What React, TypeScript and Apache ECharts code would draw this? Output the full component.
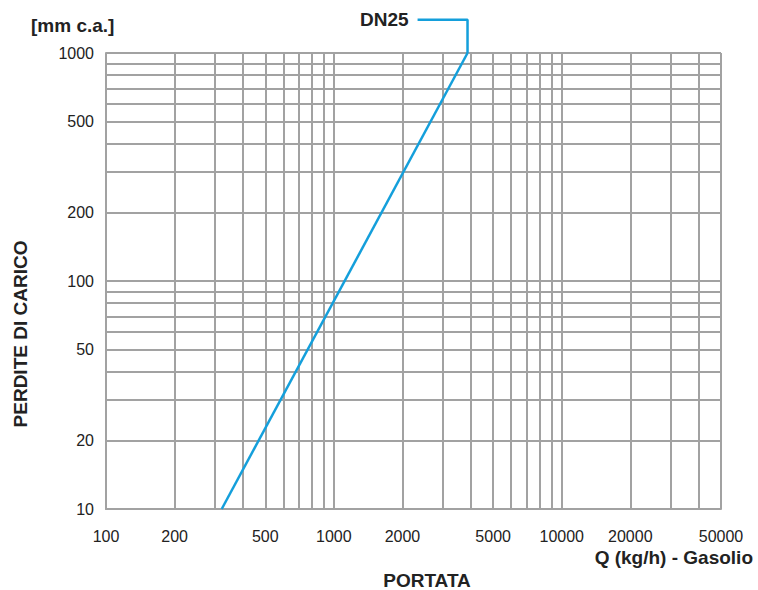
import React, { useEffect, useRef } from "react";
import * as echarts from "echarts";

// Axis ticks / grid / labels
const X_GRID = [100, 200, 300, 400, 500, 600, 700, 800, 900, 1000, 2000, 3000, 4000, 5000, 6000, 7000, 8000, 9000, 10000, 20000, 30000, 40000, 50000];
const X_LABELS = [100, 200, 500, 1000, 2000, 5000, 10000, 20000, 50000];
const Y_GRID = [10, 20, 30, 40, 50, 60, 70, 80, 90, 100, 200, 300, 400, 500, 600, 700, 800, 900, 1000];
const Y_LABELS = [10, 20, 50, 100, 200, 500, 1000];

// DN25 curve (Q kg/h, mm c.a.)
const DN25_Q = [322, 3860];
const DN25_P = [10, 1000];

// Leader line for the "DN25" tag
const LEADER_P = 1400;
const LEADER_Q_END = 2330;

const SERIES_NAME = "DN25";

export default function App() {
  const ref = useRef<HTMLDivElement>(null);
  useEffect(() => {
    document.body.style.margin = "0";
    if (!ref.current) return;
    const chart = echarts.init(ref.current, undefined, { renderer: "svg" });
    const gridColor = "#a2a2a2";
    const tickFont = "'Liberation Sans', Arial, sans-serif";
    const boldFont = "'Liberation Sans', Arial, sans-serif";
    const lastQ = DN25_Q[DN25_Q.length - 1];
    const lastP = DN25_P[DN25_P.length - 1];
    const baseGraphics: any[] = [
      {
        type: "text",
        left: 31,
        top: 16,
        style: { text: "[mm c.a.]", fill: "#222", font: `bold 19px ${boldFont}` },
      },
      {
        type: "text",
        x: 20,
        y: 334,
        rotation: Math.PI / 2,
        style: {
          text: "PERDITE DI CARICO",
          fill: "#222",
          font: `bold 19px ${boldFont}`,
          align: "center",
          verticalAlign: "middle",
        },
      },
      {
        type: "text",
        x: 427,
        y: 580,
        style: {
          text: "PORTATA",
          fill: "#222",
          font: `bold 19px ${boldFont}`,
          align: "center",
          verticalAlign: "middle",
        },
      },
      {
        type: "text",
        x: 753,
        y: 557,
        style: {
          text: "Q (kg/h) - Gasolio",
          fill: "#222",
          font: `bold 19px ${boldFont}`,
          align: "right",
          verticalAlign: "middle",
        },
      },
    ];
    chart.setOption({
      animation: false,
      backgroundColor: "#ffffff",
      grid: { left: 106, top: 53, width: 615, height: 456, containLabel: false },
      xAxis: {
        type: "log",
        min: 100,
        max: 50000,
        logBase: 10,
        axisLine: { show: true, lineStyle: { color: gridColor, width: 2 } },
        axisTick: { show: false, customValues: X_GRID },
        axisLabel: {
          customValues: X_LABELS,
          margin: 19,
          color: "#222",
          fontSize: 16,
          fontFamily: tickFont,
          formatter: (v: number) => String(Math.round(v)),
        },
        splitLine: { show: true, lineStyle: { color: gridColor, width: 2 } },
      },
      yAxis: {
        type: "log",
        min: 10,
        max: 1000,
        logBase: 10,
        axisLine: { show: true, lineStyle: { color: gridColor, width: 2 } },
        axisTick: { show: false, customValues: Y_GRID },
        axisLabel: {
          customValues: Y_LABELS,
          margin: 12,
          color: "#222",
          fontSize: 16,
          fontFamily: tickFont,
          formatter: (v: number) => String(Math.round(v)),
        },
        splitLine: { show: true, lineStyle: { color: gridColor, width: 2 } },
      },
      series: [
        {
          name: SERIES_NAME,
          type: "line",
          data: DN25_Q.map((q, i) => [q, DN25_P[i]]),
          showSymbol: false,
          symbol: "none",
          lineStyle: { color: "#149fdb", width: 2.5 },
          z: 5,
        },
        {
          name: SERIES_NAME + " tag",
          type: "line",
          clip: false,
          showSymbol: false,
          symbol: "none",
          lineStyle: { color: "#149fdb", width: 2.5 },
          data: [
            [lastQ, lastP],
            [lastQ, LEADER_P],
            [LEADER_Q_END, LEADER_P],
          ],
          z: 5,
        },
      ],
      graphic: baseGraphics,
    });
    const pt = chart.convertToPixel({ gridIndex: 0 }, [LEADER_Q_END, LEADER_P]) as number[];
    chart.setOption({
      graphic: [
        ...baseGraphics,
        {
          type: "text",
          x: pt[0] - 9,
          y: pt[1],
          style: {
            text: SERIES_NAME,
            fill: "#222",
            font: `bold 19px ${boldFont}`,
            align: "right",
            verticalAlign: "middle",
          },
        },
      ],
    });
    return () => chart.dispose();
  }, []);
  return <div ref={ref} style={{ width: 758, height: 590 }} />;
}
